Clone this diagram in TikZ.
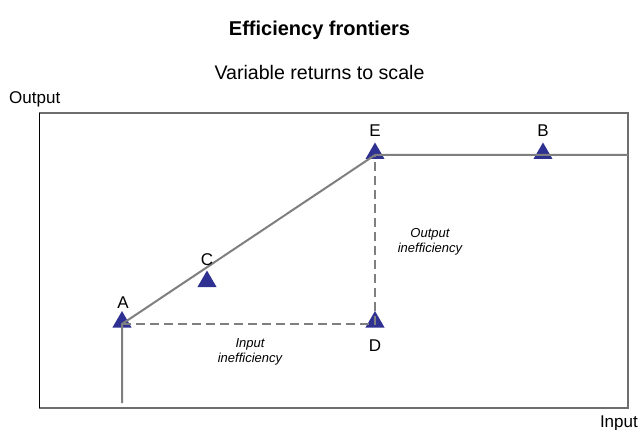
\documentclass[tikz,border=0pt]{standalone}
\usepackage{fontspec}
\setmainfont{Liberation Sans}
\usetikzlibrary{shapes.geometric}
\definecolor{tribl}{HTML}{2E3192}
\definecolor{lngray}{HTML}{7F7F7F}
\definecolor{boxgray}{HTML}{6E6E6E}
\tikzset{
  tri/.style={regular polygon, regular polygon sides=3, minimum size=22pt, inner sep=0pt, fill=tribl, draw=none},
  lbl/.style={font=\fontsize{17}{19}\selectfont, inner sep=0pt},
  ital/.style={font=\fontsize{13}{14.5}\selectfont\itshape, align=center, inner sep=0pt},
  front/.style={draw=lngray, line width=2pt},
  ineff/.style={draw=lngray, line width=2pt, dash pattern=on 9pt off 5pt},
}
\begin{document}
\begin{tikzpicture}[x=1pt, y=-1pt]
\useasboundingbox (0,0) rectangle (639,430);
\node[font=\fontsize{20}{22}\selectfont\bfseries] (title) at (319.5,30) {Efficiency frontiers};
\node[font=\fontsize{19.6}{22}\selectfont] (sub) at (319.5,72) {Variable returns to scale};
\node[lbl, anchor=west] (ylab) at (9,99) {Output};
\node[lbl, anchor=east] (xlab) at (638,423) {Input};
\coordinate (bTL) at (39,113);
\coordinate (bTR) at (628,113);
\coordinate (bBR) at (628,408);
\coordinate (bBL) at (39,408);
\draw[boxgray, line width=1.8pt] (bBL) -- (bBR) -- (bTR) -- (bTL);
\draw[black, line width=1pt] (bTL) -- (bBL);
% points
\coordinate (pA) at (122,324);
\coordinate (pC) at (207,283);
\coordinate (pE) at (375,155);
\coordinate (pB) at (543,155);
\coordinate (pD) at (375,324);
\coordinate (pR) at (628,155);
\coordinate (pF) at (122,403);
\node[tri] (tA) at ([yshift=2pt]pA) {};
\node[tri] (tC) at ([yshift=1.5pt]pC) {};
\node[tri] (tE) at ([yshift=1.5pt]pE) {};
\node[tri] (tB) at ([yshift=1.5pt]pB) {};
\node[tri] (tD) at ([yshift=2pt]pD) {};
\draw[front] (pF) -- (pA) -- (pE) -- (pR);
\draw[ineff] (pA) -- (pD) -- (pE);
\node[lbl] (lA) at (123,303) {A};
\node[lbl] (lC) at (207,260) {C};
\node[lbl] (lE) at (375,131) {E};
\node[lbl] (lB) at (543,131) {B};
\node[lbl] (lD) at (375,346) {D};
\node[ital] (oi) at (430,242) {Output\\inefficiency};
\node[ital] (ii) at (250,352) {Input\\inefficiency};
\end{tikzpicture}
\end{document}
